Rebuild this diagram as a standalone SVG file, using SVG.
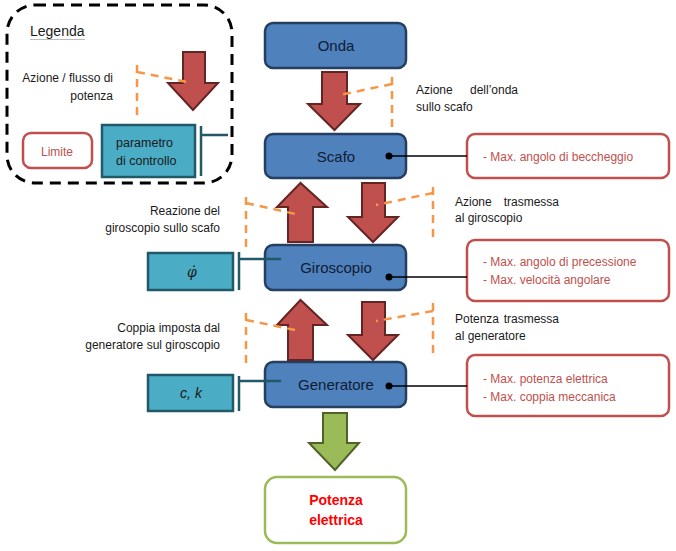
<svg xmlns="http://www.w3.org/2000/svg" width="676" height="551" viewBox="0 0 676 551">
<style>
text{font-family:"Liberation Sans",Arial,sans-serif;fill:#1a1a1a}
.node{fill:#4f81bd;stroke:#243f60;stroke-width:2.5}
.nt{font-size:15px;fill:#0f1c33;text-anchor:middle}
.arrow{fill:#c0504d;stroke:#632523;stroke-width:2}
.garrow{fill:#9bbb59;stroke:#4f6228;stroke-width:2}
.orange{fill:none;stroke:#f79646;stroke-width:2.5;stroke-dasharray:8,6}
.limit{fill:#fff;stroke:#c0504d;stroke-width:2.5}
.lt{font-size:12px;fill:#c0504d}
.teal{fill:#4bacc6;stroke:#215968;stroke-width:2.5}
.bar{fill:none;stroke:#215968;stroke-width:2.5}
.lbl{font-size:12px}
.link{stroke:#000;stroke-width:1.3}
</style>

<g id="legend">
  <rect x="7" y="5" width="225" height="178" rx="28" fill="none" stroke="#000" stroke-width="3" stroke-dasharray="11,7"/>
  <text x="30" y="36" style="font-size:14px">Legenda</text>
  <line x1="30" y1="39.5" x2="85" y2="39.5" stroke="#bbb" stroke-width="1"/>
  <path class="arrow" d="M183,52 H205 V83 H218 L193,110 L168,83 H183 Z"/>
  <path class="orange" d="M137,65 V117 M137,72 L192,83"/>
  <text class="lbl" x="113" y="82" text-anchor="end">Azione / flusso di</text>
  <text class="lbl" x="113" y="100" text-anchor="end">potenza</text>
  <rect class="teal" x="102" y="125" width="93" height="52"/>
  <text x="116" y="147" style="font-size:12.5px">parametro</text>
  <text x="116" y="165" style="font-size:12.5px">di controllo</text>
  <path class="bar" d="M201,126 V176 M201,135 H228"/>
  <rect class="limit" x="23" y="133" width="69" height="35" rx="8"/>
  <text class="lt" x="57" y="156" text-anchor="middle">Limite</text>
</g>

<g id="onda">
  <rect class="node" x="265" y="23" width="141" height="45" rx="8"/>
  <text class="nt" x="336" y="51">Onda</text>
</g>
<g id="scafo">
  <rect class="node" x="265" y="134" width="141" height="44" rx="8"/>
  <text class="nt" x="336" y="162">Scafo</text>
</g>
<g id="giroscopio">
  <rect class="node" x="265" y="245" width="141" height="45" rx="8"/>
  <text class="nt" x="336" y="273">Giroscopio</text>
</g>
<g id="generatore">
  <rect class="node" x="265" y="362" width="141" height="45" rx="8"/>
  <text class="nt" x="336" y="390">Generatore</text>
</g>
<g id="potenza-elettrica">
  <rect x="265" y="477" width="141" height="66" rx="12" fill="#fff" stroke="#9bbb59" stroke-width="2.5"/>
  <text x="336" y="505" text-anchor="middle" style="font-size:14px;font-weight:bold;fill:#ff0000">Potenza</text>
  <text x="336" y="525" text-anchor="middle" style="font-size:14px;font-weight:bold;fill:#ff0000">elettrica</text>
</g>

<g id="phi-dot">
  <rect class="teal" x="148" y="253" width="85" height="37"/>
  <text x="192" y="277" text-anchor="middle" style="font-family:'DejaVu Serif',serif;font-style:italic;font-size:14px">φ̇</text>
</g>
<g id="ck">
  <rect class="teal" x="148" y="375" width="85" height="36"/>
  <text x="191" y="398" text-anchor="middle" style="font-style:italic;font-size:14px">c, k</text>
</g>

<g id="limit-scafo">
  <rect class="limit" x="467" y="134" width="202" height="44" rx="8"/>
  <text class="lt" x="483" y="161">- Max. angolo di beccheggio</text>
</g>
<g id="limit-giroscopio">
  <rect class="limit" x="467" y="240" width="202" height="61" rx="8"/>
  <text class="lt" x="483" y="266">- Max. angolo di precessione</text>
  <text class="lt" x="483" y="284">- Max. velocità angolare</text>
</g>
<g id="limit-generatore">
  <rect class="limit" x="467" y="355" width="202" height="61" rx="8"/>
  <text class="lt" x="483" y="383">- Max. potenza elettrica</text>
  <text class="lt" x="483" y="401">- Max. coppia meccanica</text>
</g>

<g id="connectors">
  <path class="arrow" d="M322,72 H347 V104 H360 L334.5,130 L308,104 H322 Z"/>
  <path class="orange" d="M392,77 V127 M392,84 L340,95"/>
  <path class="arrow" d="M288,242 V207 H277 L300.5,183 L327,207 H313 V242 Z"/>
  <path class="orange" d="M246,197 V250 M246,203 L300,215"/>
  <path class="arrow" d="M362,183 H385 V217 H398 L373,242 L348,217 H362 Z"/>
  <path class="orange" d="M433,187 V240 M433,193 L376,205"/>
  <path class="arrow" d="M288,360 V325 H277 L300.5,300 L327,325 H313 V360 Z"/>
  <path class="orange" d="M246,313 V365 M246,320 L300,331"/>
  <path class="arrow" d="M362,302 H385 V335 H398 L373,360 L348,335 H362 Z"/>
  <path class="orange" d="M433,303 V355 M433,311 L376,321"/>
  <path class="garrow" d="M323,413 H347 V443 H359 L335,470 L309,443 H323 Z"/>
  <line class="link" x1="389" y1="156" x2="467" y2="156"/>
  <circle cx="389" cy="156" r="3.5"/>
  <line class="link" x1="389" y1="277" x2="467" y2="277"/>
  <circle cx="389" cy="277" r="3.5"/>
  <line class="link" x1="389" y1="386" x2="467" y2="386"/>
  <circle cx="389" cy="386" r="3.5"/>
  <path class="bar" d="M239,252 V290 M239,259 H281"/>
  <path class="bar" d="M239,376 V411 M239,381 H281"/>
</g>

<g id="labels">
  <text class="lbl" x="416" y="94">Azione</text>
  <text class="lbl" x="470" y="94">dell’onda</text>
  <text class="lbl" x="416" y="111">sullo scafo</text>
  <text class="lbl" x="455" y="206">Azione</text>
  <text class="lbl" x="559" y="206" text-anchor="end">trasmessa</text>
  <text class="lbl" x="455" y="222">al giroscopio</text>
  <text class="lbl" x="455" y="323">Potenza</text>
  <text class="lbl" x="559" y="323" text-anchor="end">trasmessa</text>
  <text class="lbl" x="455" y="340">al generatore</text>
  <text class="lbl" x="220" y="215" text-anchor="end">Reazione del</text>
  <text class="lbl" x="220" y="232" text-anchor="end">giroscopio sullo scafo</text>
  <text class="lbl" x="220" y="332" text-anchor="end">Coppia imposta dal</text>
  <text class="lbl" x="220" y="349" text-anchor="end">generatore sul giroscopio</text>
</g>
</svg>
